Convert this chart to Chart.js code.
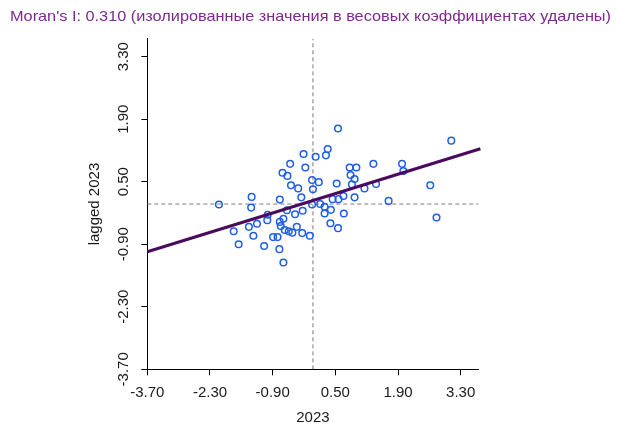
<!DOCTYPE html>
<html><head><meta charset="utf-8">
<script src="https://cdn.jsdelivr.net/npm/chart.js@4/dist/chart.umd.min.js"></script>
<style>html,body{margin:0;padding:0;background:#fff}#wrap{width:617px;height:444px;position:relative}</style>
</head><body><div id="wrap"><canvas id="c"></canvas></div>
<script>
const titleText = "Moran's I: 0.310 (изолированные значения в весовых коэффициентах удалены)";
const xTitle = "2023";
const yTitle = "lagged 2023";
const tickValues = [-3.70, -2.30, -0.90, 0.50, 1.90, 3.30];
const axisRange = [-3.70, 3.70];
const xValues = [0.56, 3.09, -0.21, 0.06, 0.33, 0.29, -0.51, -0.17, 0.82, 0.97,
  1.35, 1.99, 2.02, -0.68, -0.57, 0.84, 0.93, -0.02, 0.13, 0.00,
  -0.49, -0.33, 0.53, 0.87, 1.15, 1.41, 2.62, -1.37, -1.38, -0.74,
  -2.10, -0.26, 0.68, 0.93, 0.44, 0.57, 1.69, -0.02, 0.16, 0.26,
  0.40, 0.26, 0.69, 2.76, -0.23, -0.40, -0.58, -1.01, -1.02, -1.25,
  -1.43, -1.77, -1.66, -1.33, -1.09, -0.89, -0.79, -0.75, -0.66, -0.74,
  -0.66, -0.72, -0.63, -0.54, -0.46, -0.36, -0.24, -0.07, 0.39, 0.56];
const yValues = [1.69, 1.42, 1.12, 1.06, 1.23, 1.09, 0.90, 0.82, 0.82, 0.82,
  0.90, 0.90, 0.74, 0.70, 0.63, 0.65, 0.56, 0.54, 0.49, 0.33,
  0.42, 0.35, 0.46, 0.44, 0.35, 0.45, 0.42, 0.16, -0.08, 0.10,
  -0.01, 0.15, 0.18, 0.15, 0.11, 0.11, 0.07, -0.01, 0.00, -0.06,
  -0.13, -0.21, -0.21, -0.30, -0.15, -0.23, -0.14, -0.24, -0.36, -0.44,
  -0.51, -0.61, -0.90, -0.71, -0.94, -0.74, -0.74, -1.01, -1.31, -0.40,
  -0.33, -0.49, -0.58, -0.61, -0.64, -0.51, -0.65, -0.71, -0.43, -0.54];
const moranSlope = 0.310;
const fitIntercept = 0.08;
const fitX = [-3.70, 3.74];

const points = xValues.map((x, i) => ({x: x, y: yValues[i]}));
const fitLine = fitX.map(x => ({x: x, y: fitIntercept + moranSlope * x}));
const vZero = [{x: 0, y: axisRange[0]}, {x: 0, y: axisRange[1]}];
const hZero = [{x: axisRange[0], y: 0}, {x: axisRange[1], y: 0}];

const FONT = 'Arial, "Liberation Sans", sans-serif';
const setTicks = s => { s.ticks = tickValues.map(v => ({value: v})); };

const titlePlugin = {
  id: 'moranTitle',
  afterDraw(chart) {
    const ctx = chart.ctx;
    ctx.save();
    ctx.font = '15px ' + FONT;
    ctx.fillStyle = '#7a2a8a';
    ctx.textAlign = 'left';
    ctx.textBaseline = 'alphabetic';
    const w = ctx.measureText(titleText).width;
    const k = 601 / w;
    ctx.translate(10, 21);
    ctx.scale(k, 1);
    ctx.fillText(titleText, 0, 0);
    ctx.restore();
  }
};

new Chart(document.getElementById('c'), {
  type: 'scatter',
  data: {
    datasets: [
      {data: fitLine, showLine: true, borderColor: '#4b0a5e', borderWidth: 3, pointRadius: 0, clip: false, order: 0},
      {data: points, pointStyle: 'circle', pointRadius: 3.3, pointBorderWidth: 1.5, borderColor: '#1f5fe6', backgroundColor: 'rgba(0,0,0,0)', pointHoverRadius: 3.3, order: 1},
      {data: vZero, showLine: true, borderColor: '#7a7a7a', borderWidth: 1, borderDash: [4, 3], pointRadius: 0, order: 2},
      {data: hZero, showLine: true, borderColor: '#7a7a7a', borderWidth: 1, borderDash: [4, 3], pointRadius: 0, order: 3}
    ]
  },
  plugins: [titlePlugin],
  options: {
    responsive: true,
    maintainAspectRatio: false,
    animation: false,
    events: [],
    layout: {padding: {left: 5, right: 138.4, top: 38.8, bottom: 0}},
    plugins: {
      legend: {display: false},
      tooltip: {enabled: false},
      title: {display: false}
    },
    scales: {
      x: {
        type: 'linear', position: 'bottom', min: axisRange[0], max: axisRange[1],
        afterBuildTicks: setTicks,
        afterFit: s => { s.height = 74.7; },
        ticks: {callback: v => Number(v).toFixed(2), color: '#1a1a1a', font: {family: FONT, size: 15}, padding: 9, maxRotation: 0, autoSkip: false},
        grid: {drawOnChartArea: false, drawTicks: true, tickLength: 6, color: '#000'},
        border: {display: true, color: '#000', width: 1},
        title: {display: true, text: xTitle, color: '#1a1a1a', font: {family: FONT, size: 15}, padding: {top: 0, bottom: 17}}
      },
      y: {
        type: 'linear', position: 'left', min: axisRange[0], max: axisRange[1],
        afterBuildTicks: setTicks,
        afterFit: s => { s.width = 142.3; },
        ticks: {callback: v => Number(v).toFixed(2), color: '#1a1a1a', font: {family: FONT, size: 15}, padding: 0, minRotation: 90, maxRotation: 90, crossAlign: 'center', autoSkip: false},
        grid: {drawOnChartArea: false, drawTicks: true, tickLength: 6, color: '#000'},
        border: {display: true, color: '#000', width: 1},
        title: {display: true, text: yTitle, color: '#1a1a1a', font: {family: FONT, size: 15}, padding: {top: 81, bottom: 0}}
      }
    }
  }
});
</script>
</body></html>
